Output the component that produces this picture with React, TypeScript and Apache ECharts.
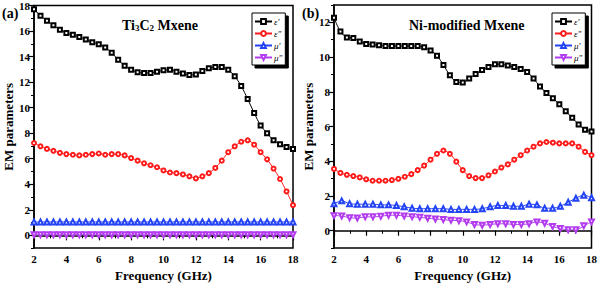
import React, { useEffect, useRef } from "react";
import * as echarts from "echarts";

const freq = [2, 2.4, 2.8, 3.2, 3.6, 4, 4.4, 4.8, 5.2, 5.6, 6, 6.4, 6.8, 7.2, 7.6, 8, 8.4, 8.8, 9.2, 9.6, 10, 10.4, 10.8, 11.2, 11.6, 12, 12.4, 12.8, 13.2, 13.6, 14, 14.4, 14.8, 15.2, 15.6, 16, 16.4, 16.8, 17.2, 17.6, 18];
const freqMuB = [2.0, 2.48, 2.97, 3.45, 3.94, 4.42, 4.91, 5.39, 5.88, 6.36, 6.85, 7.33, 7.82, 8.3, 8.79, 9.27, 9.76, 10.24, 10.73, 11.21, 11.7, 12.18, 12.67, 13.15, 13.64, 14.12, 14.61, 15.09, 15.58, 16.06, 16.55, 17.03, 17.52, 18.0];

const epsRealA = [17.7, 17.2, 16.8, 16.46, 16.1, 15.85, 15.7, 15.54, 15.33, 15.13, 14.97, 14.72, 14.3, 13.75, 13.28, 12.97, 12.77, 12.72, 12.72, 12.82, 12.92, 12.97, 12.82, 12.67, 12.56, 12.6, 12.87, 13.08, 13.18, 13.18, 12.97, 12.46, 11.7, 10.67, 9.59, 8.6, 8.0, 7.44, 7.13, 6.92, 6.77];
const epsImagA = [7.23, 6.97, 6.77, 6.62, 6.46, 6.36, 6.31, 6.26, 6.31, 6.36, 6.41, 6.31, 6.36, 6.36, 6.26, 6.05, 5.85, 5.64, 5.49, 5.33, 5.08, 4.92, 4.87, 4.77, 4.62, 4.46, 4.62, 4.87, 5.28, 5.85, 6.51, 6.97, 7.33, 7.44, 7.1, 6.51, 5.95, 5.23, 4.41, 3.44, 2.36];
const muRealA = [1.05, 1.05, 1.05, 1.05, 1.05, 1.05, 1.05, 1.05, 1.05, 1.05, 1.05, 1.05, 1.05, 1.05, 1.05, 1.05, 1.05, 1.05, 1.05, 1.05, 1.05, 1.05, 1.05, 1.05, 1.05, 1.05, 1.05, 1.05, 1.05, 1.05, 1.05, 1.05, 1.05, 1.05, 1.05, 1.05, 1.05, 1.05, 1.05, 1.05, 1.05];
const muImagA = [0.05, 0.05, 0.05, 0.05, 0.05, 0.05, 0.05, 0.05, 0.05, 0.05, 0.05, 0.05, 0.05, 0.05, 0.05, 0.05, 0.05, 0.05, 0.05, 0.05, 0.05, 0.05, 0.05, 0.05, 0.05, 0.05, 0.05, 0.05, 0.05, 0.05, 0.05, 0.05, 0.05, 0.05, 0.05, 0.05, 0.05, 0.05, 0.05, 0.05, 0.05];

const epsRealB = [12.26, 11.47, 11.13, 11.1, 10.9, 10.76, 10.72, 10.68, 10.64, 10.64, 10.64, 10.64, 10.64, 10.64, 10.56, 10.38, 10.08, 9.55, 8.95, 8.57, 8.53, 8.76, 9.02, 9.25, 9.43, 9.59, 9.59, 9.51, 9.43, 9.32, 9.14, 8.76, 8.3, 7.93, 7.63, 7.29, 6.88, 6.5, 6.12, 5.82, 5.71];
const epsImagB = [3.56, 3.33, 3.22, 3.15, 3.07, 2.96, 2.88, 2.88, 2.88, 2.92, 2.99, 3.11, 3.26, 3.49, 3.75, 4.09, 4.43, 4.62, 4.43, 3.98, 3.49, 3.15, 3.03, 3.03, 3.19, 3.41, 3.64, 3.82, 4.09, 4.35, 4.62, 4.84, 5.03, 5.11, 5.07, 5.03, 5.03, 5.03, 4.84, 4.54, 4.35];
const muRealB = [1.55, 1.72, 1.56, 1.53, 1.53, 1.53, 1.49, 1.49, 1.45, 1.38, 1.3, 1.27, 1.27, 1.27, 1.27, 1.23, 1.23, 1.23, 1.23, 1.27, 1.38, 1.45, 1.45, 1.41, 1.41, 1.53, 1.49, 1.3, 1.3, 1.41, 1.64, 1.87, 2.05, 1.9];
const muImagB = [0.87, 0.85, 0.75, 0.73, 0.8, 0.8, 0.83, 0.89, 0.89, 0.85, 0.81, 0.77, 0.72, 0.68, 0.64, 0.6, 0.58, 0.51, 0.36, 0.32, 0.36, 0.4, 0.4, 0.36, 0.36, 0.4, 0.51, 0.43, 0.25, 0.13, 0.05, 0.05, 0.28, 0.51];

const yTicksA = [0, 2, 4, 6, 8, 10, 12, 14, 16, 18];
const yTicksB = [0, 2, 4, 6, 8, 10, 12];
const names = ["ε'", 'ε"', "μ'", 'μ"'];

const FONT = "Liberation Serif";
const BLACK = "#000000";
const RED = "#ff1a1a";
const BLUE = "#2343f5";
const MAGENTA = "#b43cf0";

function zip(xs: number[], ys: number[]) {
  return ys.map((y, i) => [xs[i], y]);
}

export default function App() {
  const ref = useRef<HTMLDivElement>(null);
  useEffect(() => {
    if (!ref.current) return;
    const chart = echarts.init(ref.current, undefined, { renderer: "svg" });

    const grids = [
      { left: 34, top: 5, width: 259, height: 248, show: true, borderColor: BLACK, borderWidth: 1.5, backgroundColor: "transparent" },
      { left: 334, top: 5, width: 259, height: 248, show: true, borderColor: BLACK, borderWidth: 1.5, backgroundColor: "transparent" },
    ];

    const labelStyle = { color: BLACK, fontFamily: FONT, fontWeight: "bold" as const, fontSize: 11 };
    const nameStyle = { color: BLACK, fontFamily: FONT, fontWeight: "bold" as const, fontSize: 13 };

    const xAxis = [0, 1].map((g) => ({
      type: "value" as const,
      gridIndex: g,
      min: 2,
      max: 18,
      interval: 2,
      name: "Frequency (GHz)",
      nameLocation: "middle" as const,
      nameGap: 18,
      nameTextStyle: nameStyle,
      axisLine: { show: true, lineStyle: { color: BLACK, width: 1.5 } },
      axisTick: { show: true, length: 5, lineStyle: { color: BLACK, width: 1.2 } },
      minorTick: { show: true, splitNumber: 2, length: 3, lineStyle: { color: BLACK, width: 1 } },
      axisLabel: { ...labelStyle, margin: 5 },
      splitLine: { show: false },
    }));

    const mkY = (g: number, max: number, ticks: number[]) => [
      {
        type: "value" as const,
        gridIndex: g,
        min: -1,
        max,
        name: "EM parameters",
        nameLocation: "middle" as const,
        nameGap: 18,
        nameTextStyle: nameStyle,
        axisLine: { show: true, lineStyle: { color: BLACK, width: 1.5 } },
        axisTick: { show: true, length: 5, customValues: ticks, lineStyle: { color: BLACK, width: 1.2 } },
        axisLabel: { ...labelStyle, margin: 4, customValues: ticks },
        splitLine: { show: false },
      },
      {
        type: "value" as const,
        gridIndex: g,
        position: "left" as const,
        min: -1,
        max,
        interval: 1,
        axisLine: { show: false },
        axisTick: { show: true, length: 3, lineStyle: { color: BLACK, width: 1 } },
        axisLabel: { show: false },
        splitLine: { show: false },
      },
    ];
    const yAxis = [...mkY(0, 18, yTicksA), ...mkY(1, 13, yTicksB)];

    const styles = [
      { color: BLACK, symbol: "emptyRect", size: 4, rotate: 0 },
      { color: RED, symbol: "emptyCircle", size: 4, rotate: 0 },
      { color: BLUE, symbol: "emptyTriangle", size: 5, rotate: 0 },
      { color: MAGENTA, symbol: "emptyTriangle", size: 5, rotate: 180 },
    ];

    const mkSeries = (i: number, data: number[][], xi: number, yi: number) => ({
      type: "line" as const,
      name: names[i],
      xAxisIndex: xi,
      yAxisIndex: yi,
      data,
      symbol: styles[i].symbol,
      symbolSize: styles[i].size,
      symbolRotate: styles[i].rotate,
      showAllSymbol: true,
      smooth: 0.3,
      lineStyle: { color: styles[i].color, width: 1 },
      itemStyle: { color: styles[i].color, borderColor: styles[i].color, borderWidth: 1.1 },
      z: 2 + i,
    });

    const series = [
      mkSeries(0, zip(freq, epsRealA), 0, 0),
      mkSeries(1, zip(freq, epsImagA), 0, 0),
      mkSeries(2, zip(freq, muRealA), 0, 0),
      mkSeries(3, zip(freq, muImagA), 0, 0),
      mkSeries(0, zip(freq, epsRealB), 1, 2),
      mkSeries(1, zip(freq, epsImagB), 1, 2),
      mkSeries(2, zip(freqMuB, muRealB), 1, 2),
      mkSeries(3, zip(freqMuB, muImagB), 1, 2),
    ];

    const mkLegend = (left: number) => ({
      orient: "vertical" as const,
      left,
      top: 13,
      data: names,
      itemWidth: 17,
      itemHeight: 6,
      itemGap: 1,
      padding: [3, 3, 2, 2],
      backgroundColor: "#ffffff",
      borderColor: BLACK,
      borderWidth: 1,
      shadowColor: "#000000",
      shadowBlur: 0,
      shadowOffsetX: 3,
      shadowOffsetY: 3,
      selectedMode: false,
      textStyle: { color: BLACK, fontFamily: FONT, fontStyle: "italic" as const, fontSize: 9, lineHeight: 11, padding: [0, 0, 0, -3] },
    });

    const titleRich = {
      n: { fontFamily: FONT, fontWeight: "bold" as const, fontSize: 14, color: BLACK },
      s: { fontFamily: FONT, fontWeight: "bold" as const, fontSize: 9, color: BLACK, padding: [5, 0, 0, 0] },
    };

    chart.setOption({
      animation: false,
      backgroundColor: "#ffffff",
      grid: grids,
      xAxis,
      yAxis,
      series,
      legend: [mkLegend(252), mkLegend(552)],
      graphic: [
        { type: "text", left: 2, top: 6, style: { text: "(a)", fontFamily: FONT, fontWeight: "bold", fontSize: 14, fill: BLACK } },
        { type: "text", left: 302, top: 6, style: { text: "(b)", fontFamily: FONT, fontWeight: "bold", fontSize: 14, fill: BLACK } },
        {
          type: "text",
          left: 122,
          top: 18,
          style: { text: "{n|Ti}{s|3}{n|C}{s|2}{n| Mxene}", rich: titleRich },
        },
        {
          type: "text",
          left: 409,
          top: 18,
          style: { text: "Ni-modified Mxene", fontFamily: FONT, fontWeight: "bold", fontSize: 14, fill: BLACK },
        },
      ],
    });
    return () => chart.dispose();
  }, []);
  return (
    <div
      ref={ref}
      style={{ position: "fixed", left: 0, top: 0, width: 600, height: 287, background: "#fff" }}
    />
  );
}
